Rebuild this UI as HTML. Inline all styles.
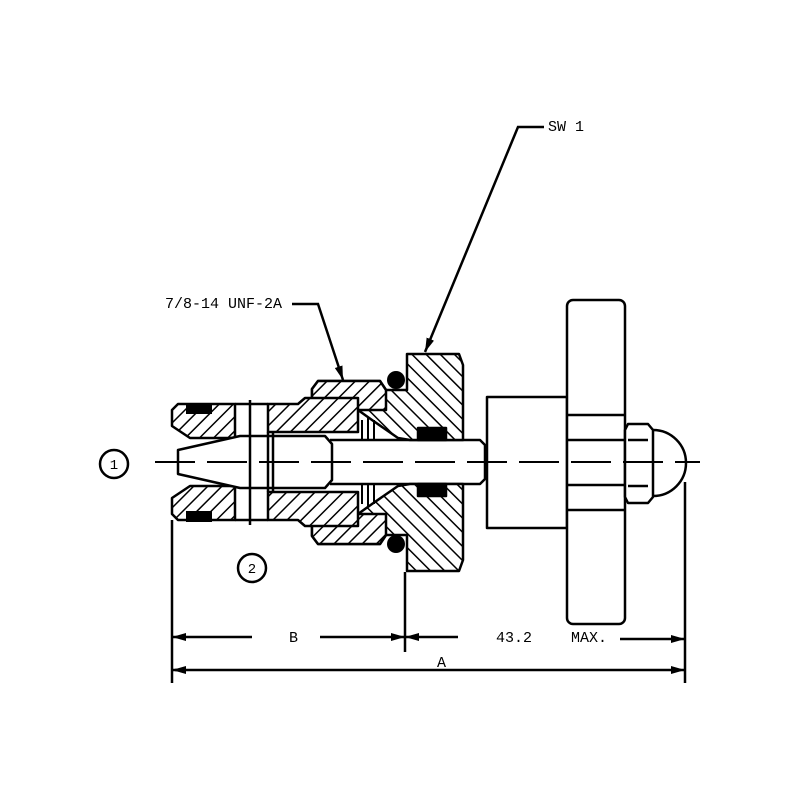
<!DOCTYPE html>
<html><head><style>html,body{margin:0;padding:0;background:#fff}svg{display:block}</style></head>
<body>
<svg width="800" height="800" viewBox="0 0 800 800" xmlns="http://www.w3.org/2000/svg">
<defs>
<pattern id="h1" patternUnits="userSpaceOnUse" width="10" height="10" patternTransform="rotate(45)">
<rect width="10" height="10" fill="#fff"/><line x1="0" y1="0" x2="0" y2="10" stroke="#000" stroke-width="3"/></pattern>
<pattern id="h2" patternUnits="userSpaceOnUse" width="10" height="10" patternTransform="rotate(-45)">
<rect width="10" height="10" fill="#fff"/><line x1="0" y1="0" x2="0" y2="10" stroke="#000" stroke-width="3"/></pattern>
<marker id="ar" markerWidth="14" markerHeight="8" refX="14" refY="4" orient="auto" markerUnits="userSpaceOnUse"><path d="M0,0L14,4L0,8z" fill="#000"/></marker>
</defs>
<rect width="800" height="800" fill="#fff"/>
<g stroke="#000" stroke-width="2.5" stroke-linejoin="round" fill="none">
<!-- knob -->
<rect x="487" y="397" width="80" height="131" fill="#fff"/>
<path d="M653,430 A33,33 0 0 1 653,496" fill="#fff"/>
<rect x="567" y="300" width="58" height="324" rx="6" fill="#fff"/>
<line x1="567" y1="415" x2="625" y2="415"/><line x1="567" y1="440" x2="625" y2="440"/>
<line x1="567" y1="485" x2="625" y2="485"/><line x1="567" y1="510" x2="625" y2="510"/>
<path d="M628,424 H648 L653,430 V497 L648,503 H628 L625,497 V430 Z" fill="#fff"/>
<path d="M628,440 H648 M628,486 H648"/>
<!-- rod -->
<path d="M330,440 H480 L485,445 V479 L480,484 H330" fill="#fff"/>
<!-- body top/bottom -->
<path d="M318,381 H380 L386,390 H407 V354 H459 L463,365 V440 H410 L398,438 L372,420 L358,410 H312 V389 Z" fill="url(#h2)"/>
<path d="M318,544 H380 L386,535 H407 V571 H459 L463,560 V484 H410 L398,486 L372,504 L358,514 H312 V536 Z" fill="url(#h2)"/>
<!-- seal blocks -->
<rect x="418" y="428" width="28" height="12" fill="#000"/>
<rect x="418" y="484" width="28" height="12" fill="#000"/>
<!-- sleeve -->
<path d="M318,381 H380 L386,390 V410 H312 V389 Z" fill="url(#h1)"/>
<path d="M318,544 H380 L386,535 V514 H312 V536 Z" fill="url(#h1)"/>
<!-- left nut -->
<path d="M178,404 H235 V438 H190 L172,426 V410 Z" fill="url(#h1)"/>
<path d="M178,520 H235 V486 H190 L172,498 V514 Z" fill="url(#h1)"/>
<path d="M268,404 H298 L305,398 H358 V432 H268 Z" fill="url(#h1)"/>
<path d="M268,520 H298 L305,526 H358 V492 H268 Z" fill="url(#h1)"/>
<path d="M235,404 H268 M235,520 H268"/>
<!-- stem -->
<path d="M178,450 L240,436 H325 L332,444 V480 L325,488 H240 L178,474 Z" fill="#fff"/>
<line x1="250" y1="400" x2="250" y2="525"/><line x1="268" y1="432" x2="268" y2="492"/>
<line x1="273" y1="432" x2="273" y2="492"/>
<!-- springs -->
<path d="M362,420 V440 M368,418 V440 M374,420 V440 M362,484 V504 M368,484 V506 M374,484 V504" stroke-width="2"/>
</g>
<!-- orings -->
<circle cx="396" cy="380" r="9"/><circle cx="396" cy="544" r="9"/>
<rect x="186" y="403" width="26" height="11"/><rect x="186" y="511" width="26" height="11"/>
<!-- centerline -->
<line x1="155" y1="462" x2="700" y2="462" stroke="#000" stroke-width="2" stroke-dasharray="40,12"/>
<g stroke="#000" stroke-width="2.5" fill="#fff">
<circle cx="114" cy="464" r="14"/><circle cx="252" cy="568" r="14"/>
</g>
<g font-family="Liberation Mono, monospace" font-size="14" fill="#000" text-anchor="middle">
<text x="114" y="469">1</text><text x="252" y="573">2</text>
</g>
<!-- dims -->
<g stroke="#000" stroke-width="2.5" fill="none">
<line x1="172" y1="520" x2="172" y2="683"/>
<line x1="405" y1="572" x2="405" y2="652"/>
<line x1="685" y1="482" x2="685" y2="683"/>
<line x1="252" y1="637" x2="172" y2="637" marker-end="url(#ar)"/>
<line x1="320" y1="637" x2="405" y2="637" marker-end="url(#ar)"/>
<line x1="458" y1="637" x2="405" y2="637" marker-end="url(#ar)"/>
<line x1="620" y1="639" x2="685" y2="639" marker-end="url(#ar)"/>
<line x1="180" y1="670" x2="172" y2="670" marker-end="url(#ar)"/>
<line x1="175" y1="670" x2="685" y2="670" marker-end="url(#ar)"/>
<polyline points="292,304 318,304 343,380" marker-end="url(#ar)"/>
<polyline points="544,127 518,127 425,352" marker-end="url(#ar)"/>
</g>
<g font-family="Liberation Mono, monospace" font-size="15" fill="#000">
<text x="165" y="308">7/8-14 UNF-2A</text>
<text x="548" y="131">SW 1</text>
<text x="289" y="642">B</text>
<text x="496" y="642">43.2</text>
<text x="571" y="642">MAX.</text>
<text x="437" y="667">A</text>
</g>
</svg>
</body></html>
